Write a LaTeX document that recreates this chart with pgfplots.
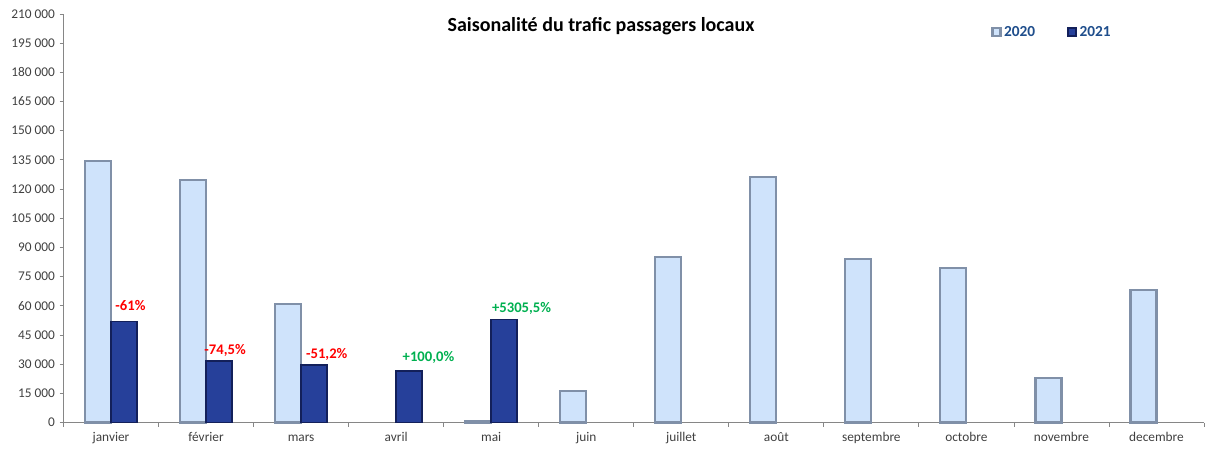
\documentclass[border=0pt]{standalone}
\usepackage{pgfplots}
\pgfplotsset{compat=1.18}
\usepackage{fontspec}
\setmainfont{Carlito}
\definecolor{c20}{HTML}{CFE3FB}
\definecolor{c20e}{HTML}{8090A8}
\definecolor{c21}{HTML}{26409A}
\definecolor{c21e}{HTML}{13205A}
\definecolor{axgray}{HTML}{868686}
\definecolor{tickc}{HTML}{404040}
\definecolor{legblue}{HTML}{1F4E8C}
\definecolor{redl}{HTML}{FF0000}
\definecolor{greenl}{HTML}{00B050}
\begin{document}
\begin{tikzpicture}
\useasboundingbox (0,0) rectangle (904.5pt,337.5pt);
\begin{axis}[
  at={(47.625pt,20.625pt)}, anchor=south west,
  scale only axis, width=855.375pt, height=306.375pt,
  ybar=0pt, bar width=19.5pt,
  xmin=-0.5, xmax=11.5, ymin=0, ymax=210000,
  ytick distance=15000,
  scaled y ticks=false,
  xtick={0,...,11},
  xticklabels={janvier,février,mars,avril,mai,juin,juillet,août,septembre,octobre,novembre,decembre},
  minor xtick={-0.5,0.5,...,11.5},
  major x tick style={draw=none},
  minor tick length=3pt,
  major tick length=3pt,
  tick align=outside,
  axis lines*=left,
  axis line style={axgray, line width=0.6pt},
  every tick/.style={axgray, line width=0.6pt},
  tick label style={font=\fontsize{10}{12}\selectfont, text=tickc},
  xticklabel style={text height=1.6ex, text depth=0.3ex},
  /pgf/number format/assume math mode=true,
  /pgf/number format/.cd, fixed, 1000 sep={\kern0.22em},
  /pgfplots/.cd,
  legend columns=2,
  legend style={draw=none, fill=none, at={(0.867,0.956)}, anchor=center,
    font=\bfseries\fontsize{11.5}{13}\selectfont, text=legblue,
    /tikz/every even column/.append style={column sep=22pt}},
  legend image code/.code={\fill[#1] (0pt,-3pt) rectangle (6pt,3pt);},
  clip=false,
]
\addplot[fill=c20, draw=c20e, line width=1.6pt] coordinates {
 (0,134300) (1,124500) (2,60700) (4,980) (5,16300) (6,84900) (7,126100)
 (8,84000) (9,79600) (10,22800) (11,68100)};
\addlegendentry{2020}
\addplot[fill=c21, draw=c21e, line width=1.2pt] coordinates {
 (0,52000) (1,31500) (2,29700) (3,26400) (4,52900)};
\addlegendentry{2021}
\node[font=\bfseries\fontsize{11}{13}\selectfont, text=redl] at (axis cs:0.205,59900) {-61\%};
\node[font=\bfseries\fontsize{11}{13}\selectfont, text=redl] at (axis cs:1.2,36800) {-74,5\%};
\node[font=\bfseries\fontsize{11}{13}\selectfont, text=redl] at (axis cs:2.27,35200) {-51,2\%};
\node[font=\bfseries\fontsize{11}{13}\selectfont, text=greenl] at (axis cs:3.34,33200) {+100,0\%};
\node[font=\bfseries\fontsize{11}{13}\selectfont, text=greenl] at (axis cs:4.32,58600) {+5305,5\%};
\end{axis}
\node[font=\bfseries\fontsize{15}{17}\selectfont] at (450.75pt,318pt) {Saisonalité du trafic passagers locaux};
\end{tikzpicture}
\end{document}
